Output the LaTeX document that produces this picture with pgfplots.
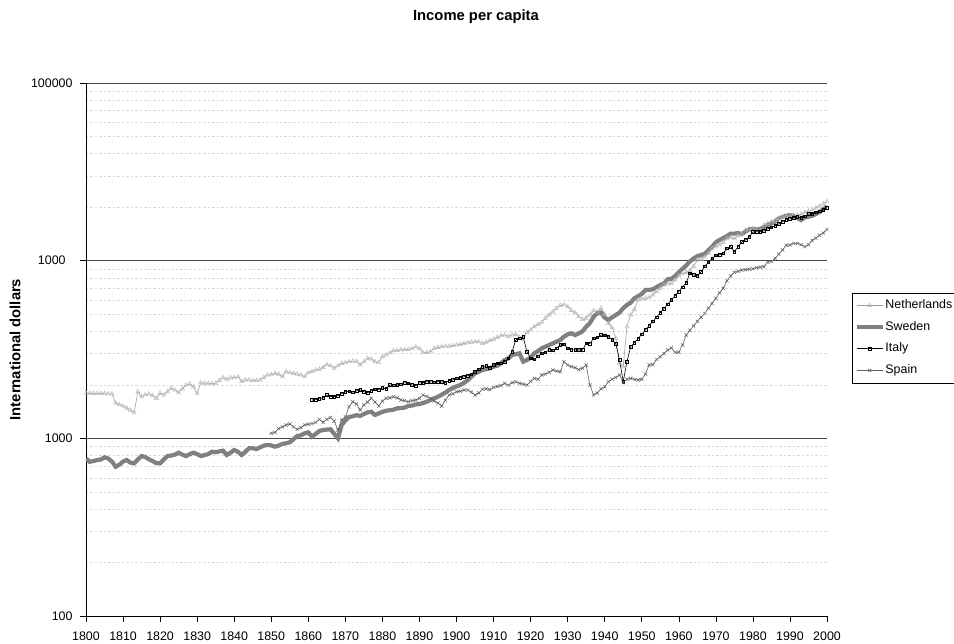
\documentclass[border=0pt]{standalone}
\usepackage{pgfplots}
\pgfplotsset{compat=1.18}
\usepackage{fontspec}
\setmainfont{Liberation Sans}
\definecolor{nlline}{gray}{0.62}
\definecolor{nlmark}{gray}{0.72}
\definecolor{swe}{gray}{0.50}
\definecolor{spa}{gray}{0.38}
\begin{document}
\begin{tikzpicture}
\useasboundingbox (-86bp,-28bp) rectangle (868bp,616bp);
\begin{axis}[
  at={(0bp,0bp)}, anchor=south west,
  scale only axis, width=741bp, height=533bp,
  xmin=1800, xmax=2000, ymin=100, ymax=100000, ymode=log,
  axis lines*=left,
  axis line style={black, line width=0.7bp},
  xtick={1800,1810,1820,1830,1840,1850,1860,1870,1880,1890,1900,1910,1920,1930,1940,1950,1960,1970,1980,1990,2000},
  xticklabels={1800,1810,1820,1830,1840,1850,1860,1870,1880,1890,1900,1910,1920,1930,1940,1950,1960,1970,1980,1990,2000},
  ytick={100,1000,10000,100000},
  yticklabels={100,1000,1000\phantom{0},100000},
  minor ytick={200,300,400,500,600,700,800,900,2000,3000,4000,5000,6000,7000,8000,9000,20000,30000,40000,50000,60000,70000,80000,90000},
  ymajorgrids, yminorgrids,
  major grid style={black!72, line width=0.8bp},
  minor grid style={black!14, line width=0.45bp, dash pattern=on 2.5bp off 2bp},
  tick align=outside, major tick length=6bp, minor tick length=0bp,
  tick style={black, line width=0.6bp},
  ticklabel style={font=\fontsize{12.4bp}{14bp}\selectfont},
  xticklabel style={yshift=-6bp},
  yticklabel style={xshift=-4bp},
  /pgf/number format/assume math mode=true,
  ylabel={International dollars},
  every axis y label/.style={at={(axis description cs:-0.0958,0.5)}, rotate=90, anchor=center, font=\fontsize{14.8bp}{17bp}\selectfont\bfseries},
  title={Income per capita},
  every axis title/.style={at={(axis description cs:0.5263,1.1238)}, anchor=center, font=\fontsize{14.8bp}{17bp}\selectfont\bfseries},
  legend style={at={(axis description cs:1.0333,0.6066)}, anchor=north west, draw=black, line width=0.6bp,
    font=\fontsize{12.4bp}{14bp}\selectfont, inner xsep=2.5bp, inner ysep=6bp, row sep=8.5bp,
    nodes={inner sep=0.8bp, text height=9bp, text depth=2.5bp}},
  legend cell align=left,
  legend image code/.code={\draw[mark repeat=2,mark phase=2] plot coordinates {(0bp,0bp)(13bp,0bp)(26bp,0bp)};},
]
% Netherlands
\addplot[nlline, line width=0.6bp, mark=triangle, mark size=2.4bp, mark options={draw=nlmark, fill=white, line width=0.5bp}] coordinates {
(1800,1793)(1801,1793)(1802,1793)(1803,1790)(1804,1790)(1805,1785)(1806,1780)(1807,1780)(1808,1580)(1809,1550)
(1810,1520)(1811,1480)(1812,1440)(1813,1394)(1814,1830)(1815,1715)(1816,1760)(1817,1777)(1818,1740)(1819,1680)
(1820,1793)(1821,1753)(1822,1830)(1823,1913)(1824,1870)(1825,1808)(1826,1900)(1827,1996)(1828,2022)(1829,1950)
(1830,1793)(1831,2057)(1832,2040)(1833,2040)(1834,2030)(1835,2040)(1836,2120)(1837,2194)(1838,2150)(1839,2190)
(1840,2194)(1841,2220)(1842,2090)(1843,2130)(1844,2130)(1845,2110)(1846,2120)(1847,2130)(1848,2200)(1849,2272)
(1850,2280)(1851,2322)(1852,2300)(1853,2222)(1854,2371)(1855,2340)(1856,2322)(1857,2300)(1858,2272)(1859,2222)
(1860,2341)(1861,2380)(1862,2424)(1863,2450)(1864,2510)(1865,2600)(1866,2560)(1867,2480)(1868,2560)(1869,2644)
(1870,2670)(1871,2700)(1872,2720)(1873,2720)(1874,2587)(1875,2700)(1876,2822)(1877,2800)(1878,2700)(1879,2670)
(1880,2881)(1881,2950)(1882,3030)(1883,3114)(1884,3120)(1885,3150)(1886,3150)(1887,3171)(1888,3200)(1889,3279)
(1890,3200)(1891,3034)(1892,3040)(1893,3073)(1894,3212)(1895,3250)(1896,3280)(1897,3309)(1898,3300)(1899,3330)
(1900,3352)(1901,3380)(1902,3426)(1903,3453)(1904,3480)(1905,3498)(1906,3500)(1907,3426)(1908,3480)(1909,3560)
(1910,3609)(1911,3700)(1912,3780)(1913,3815)(1914,3750)(1915,3815)(1916,3850)(1917,3700)(1918,3600)(1919,3950)
(1920,4071)(1921,4250)(1922,4380)(1923,4500)(1924,4750)(1925,4950)(1926,5150)(1927,5400)(1928,5600)(1929,5650)
(1930,5500)(1931,5250)(1932,5100)(1933,4838)(1934,4676)(1935,4750)(1936,4950)(1937,5230)(1938,5150)(1939,5395)
(1940,5000)(1941,4440)(1942,4200)(1943,3656)(1944,2644)(1945,2530)(1946,4249)(1947,4946)(1948,5300)(1949,6006)
(1950,6100)(1951,6150)(1952,6200)(1953,6408)(1954,6700)(1955,7000)(1956,7296)(1957,7400)(1958,7450)(1959,7785)
(1960,8200)(1961,8450)(1962,8600)(1963,8800)(1964,9300)(1965,10090)(1966,10200)(1967,10500)(1968,11000)(1969,11700)
(1970,12000)(1971,12300)(1972,12700)(1973,13300)(1974,13500)(1975,13300)(1976,13800)(1977,14100)(1978,14880)(1979,15100)
(1980,15100)(1981,14900)(1982,14700)(1983,15880)(1984,16200)(1985,16600)(1986,16900)(1987,17310)(1988,17500)(1989,17700)
(1990,17900)(1991,18000)(1992,18060)(1993,18200)(1994,18700)(1995,19000)(1996,19280)(1997,19800)(1998,20300)(1999,20900)
(2000,21500)};
\addlegendentry{Netherlands}
% Sweden
\addplot[swe, line width=4.2bp, no markers] coordinates {
(1800,772)(1801,738)(1802,745)(1803,755)(1804,760)(1805,782)(1806,770)(1807,740)(1808,692)(1809,710)
(1810,740)(1811,755)(1812,730)(1813,723)(1814,760)(1815,795)(1816,785)(1817,762)(1818,745)(1819,725)
(1820,723)(1821,760)(1822,795)(1823,800)(1824,810)(1825,830)(1826,810)(1827,795)(1828,815)(1829,830)
(1830,815)(1831,795)(1832,805)(1833,815)(1834,841)(1835,835)(1836,845)(1837,852)(1838,806)(1839,830)
(1840,860)(1841,840)(1842,806)(1843,840)(1844,879)(1845,880)(1846,870)(1847,890)(1848,910)(1849,918)
(1850,912)(1851,898)(1852,910)(1853,930)(1854,938)(1855,950)(1856,988)(1857,1031)(1858,1040)(1859,1067)
(1860,1080)(1861,1021)(1862,1060)(1863,1100)(1864,1114)(1865,1120)(1866,1124)(1867,1060)(1868,1000)(1869,1189)
(1870,1260)(1871,1319)(1872,1330)(1873,1350)(1874,1337)(1875,1370)(1876,1400)(1877,1412)(1878,1354)(1879,1380)
(1880,1410)(1881,1430)(1882,1440)(1883,1450)(1884,1476)(1885,1480)(1886,1490)(1887,1521)(1888,1530)(1889,1550)
(1890,1561)(1891,1580)(1892,1610)(1893,1643)(1894,1680)(1895,1715)(1896,1760)(1897,1810)(1898,1871)(1899,1920)
(1900,1960)(1901,1996)(1902,2050)(1903,2120)(1904,2222)(1905,2322)(1906,2370)(1907,2424)(1908,2450)(1909,2480)
(1910,2530)(1911,2560)(1912,2644)(1913,2760)(1914,2820)(1915,2945)(1916,2980)(1917,3010)(1918,2700)(1919,2760)
(1920,2850)(1921,3010)(1922,3100)(1923,3212)(1924,3280)(1925,3350)(1926,3426)(1927,3500)(1928,3576)(1929,3732)
(1930,3850)(1931,3900)(1932,3815)(1933,3900)(1934,4000)(1935,4249)(1936,4450)(1937,4838)(1938,5056)(1939,5100)
(1940,4780)(1941,4634)(1942,4800)(1943,4946)(1944,5100)(1945,5400)(1946,5629)(1947,5800)(1948,6140)(1949,6300)
(1950,6500)(1951,6838)(1952,6850)(1953,6900)(1954,7100)(1955,7296)(1956,7450)(1957,7856)(1958,7900)(1959,8200)
(1960,8600)(1961,9000)(1962,9400)(1963,9900)(1964,10300)(1965,10600)(1966,10765)(1967,10900)(1968,11480)(1969,12000)
(1970,12700)(1971,13070)(1972,13400)(1973,13770)(1974,14200)(1975,14200)(1976,14300)(1977,14100)(1978,14600)(1979,15000)
(1980,15100)(1981,15000)(1982,15100)(1983,15400)(1984,15900)(1985,16200)(1986,16600)(1987,17300)(1988,17600)(1989,17900)
(1990,18060)(1991,17800)(1992,17400)(1993,16930)(1994,17500)(1995,17670)(1996,17900)(1997,18300)(1998,18800)(1999,19500)
(2000,20200)};
\addlegendentry{Sweden}
% Italy
\addplot[black, line width=0.6bp, mark=square, mark size=1.3bp, mark options={fill=white, line width=0.5bp}] coordinates {
(1861,1643)(1862,1650)(1863,1671)(1864,1690)(1865,1754)(1866,1720)(1867,1715)(1868,1740)(1869,1780)
(1870,1830)(1871,1840)(1872,1820)(1873,1850)(1874,1871)(1875,1830)(1876,1808)(1877,1850)(1878,1888)(1879,1880)
(1880,1920)(1881,1900)(1882,1996)(1883,1990)(1884,2000)(1885,2020)(1886,2057)(1887,2040)(1888,1996)(1889,1980)
(1890,2050)(1891,2060)(1892,2084)(1893,2080)(1894,2070)(1895,2084)(1896,2080)(1897,2060)(1898,2110)(1899,2130)
(1900,2180)(1901,2200)(1902,2222)(1903,2250)(1904,2300)(1905,2371)(1906,2450)(1907,2530)(1908,2560)(1909,2500)
(1910,2587)(1911,2640)(1912,2650)(1913,2700)(1914,2822)(1915,3073)(1916,3576)(1917,3656)(1918,3730)(1919,3073)
(1920,2822)(1921,2780)(1922,2900)(1923,3010)(1924,3050)(1925,3150)(1926,3130)(1927,3212)(1928,3352)(1929,3380)
(1930,3212)(1931,3150)(1932,3142)(1933,3140)(1934,3140)(1935,3426)(1936,3420)(1937,3656)(1938,3700)(1939,3815)
(1940,3800)(1941,3732)(1942,3600)(1943,3400)(1944,2760)(1945,2084)(1946,2700)(1947,3266)(1948,3453)(1949,3640)
(1950,3850)(1951,4071)(1952,4310)(1953,4550)(1954,4815)(1955,5090)(1956,5380)(1957,5690)(1958,6006)(1959,6350)
(1960,6710)(1961,7100)(1962,7500)(1963,8500)(1964,8300)(1965,8200)(1966,8640)(1967,9300)(1968,9800)(1969,10300)
(1970,10700)(1971,10800)(1972,11000)(1973,11740)(1974,12000)(1975,11230)(1976,12000)(1977,12730)(1978,13070)(1979,13600)
(1980,14500)(1981,14550)(1982,14600)(1983,14700)(1984,15100)(1985,15400)(1986,15700)(1987,16100)(1988,16600)(1989,17000)
(1990,17200)(1991,17500)(1992,17700)(1993,17400)(1994,17800)(1995,18300)(1996,18400)(1997,18700)(1998,19000)(1999,19300)
(2000,19900)};
\addlegendentry{Italy}
% Spain
\addplot[spa, line width=0.6bp, mark=x, mark size=2.3bp, mark options={line width=0.5bp}] coordinates {
(1850,1067)(1851,1080)(1852,1134)(1853,1160)(1854,1189)(1855,1205)(1856,1160)(1857,1124)(1858,1150)(1859,1189)
(1860,1200)(1861,1210)(1862,1230)(1863,1277)(1864,1230)(1865,1280)(1866,1310)(1867,1250)(1868,1114)(1869,1269)
(1870,1320)(1871,1507)(1872,1607)(1873,1560)(1874,1444)(1875,1541)(1876,1600)(1877,1680)(1878,1600)(1879,1521)
(1880,1620)(1881,1680)(1882,1690)(1883,1715)(1884,1690)(1885,1643)(1886,1630)(1887,1607)(1888,1630)(1889,1643)
(1890,1680)(1891,1754)(1892,1720)(1893,1680)(1894,1620)(1895,1580)(1896,1521)(1897,1640)(1898,1754)(1899,1780)
(1900,1830)(1901,1840)(1902,1871)(1903,1871)(1904,1820)(1905,1754)(1906,1800)(1907,1888)(1908,1900)(1909,1880)
(1910,1937)(1911,1960)(1912,1980)(1913,2040)(1914,1990)(1915,2057)(1916,2080)(1917,2040)(1918,2020)(1919,1996)
(1920,2090)(1921,2177)(1922,2150)(1923,2272)(1924,2300)(1925,2350)(1926,2424)(1927,2390)(1928,2371)(1929,2700)
(1930,2587)(1931,2530)(1932,2500)(1933,2440)(1934,2480)(1935,2587)(1936,1996)(1937,1754)(1938,1800)(1939,1900)
(1940,1950)(1941,2084)(1942,2150)(1943,2200)(1944,2272)(1945,2057)(1946,2150)(1947,2177)(1948,2150)(1949,2130)
(1950,2150)(1951,2300)(1952,2587)(1953,2600)(1954,2780)(1955,2881)(1956,3000)(1957,3142)(1958,3230)(1959,3050)
(1960,3050)(1961,3350)(1962,3815)(1963,4050)(1964,4300)(1965,4550)(1966,4800)(1967,5050)(1968,5400)(1969,5750)
(1970,6140)(1971,6600)(1972,7000)(1973,7700)(1974,8200)(1975,8600)(1976,8700)(1977,8860)(1978,8900)(1979,8950)
(1980,9000)(1981,9130)(1982,9200)(1983,9250)(1984,9800)(1985,9900)(1986,10300)(1987,10900)(1988,11500)(1989,12200)
(1990,12250)(1991,12500)(1992,12510)(1993,12300)(1994,11990)(1995,12300)(1996,13000)(1997,13400)(1998,13900)(1999,14300)
(2000,15000)};
\addlegendentry{Spain}
\end{axis}
\end{tikzpicture}
\end{document}
